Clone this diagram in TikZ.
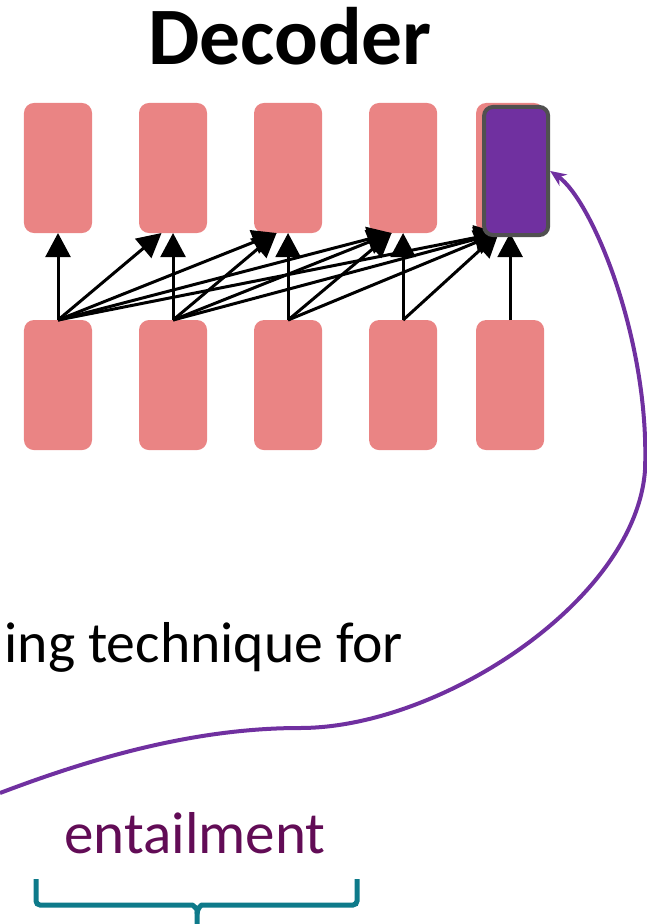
\documentclass[tikz,border=0pt]{standalone}
\usepackage{fontspec}
\setmainfont{Carlito}
\usetikzlibrary{positioning,arrows.meta}

\definecolor{cellpink}{RGB}{234,132,132}
\definecolor{selpurple}{RGB}{112,48,160}
\definecolor{selborder}{RGB}{80,80,80}
\definecolor{wordplum}{RGB}{98,12,86}
\definecolor{braceteal}{RGB}{14,122,138}

\begin{document}
\begin{tikzpicture}[x=0.025cm, y=-0.025cm, node distance = 2.175cm, auto]
    \tikzset{>=Triangle}
    % Draw the decoder cells
    \tikzstyle{cell}    = [rectangle, rounded corners=0.25cm, minimum width=1.7cm, minimum height=3.25cm, inner sep=0pt, outer sep=0pt, fill=cellpink]
    \tikzstyle{chosen}  = [rectangle, rounded corners=0.22cm, minimum width=1.6cm, minimum height=3.2cm, inner sep=0pt, line width=0.1cm, draw=selborder, fill=selpurple]
    \tikzstyle{feed}    = [line width=0.075cm, -{Triangle[length=0.6cm,width=0.62cm]}]
    \tikzstyle{pointer} = [line width=0.1cm, selpurple, -{Stealth[length=0.4cm,width=0.34cm]}]
    \tikzstyle{bracket} = [line width=0.125cm, braceteal, rounded corners=0.1cm]

    \useasboundingbox (0,0) rectangle (646,924);

    \node[anchor=base, font=\bfseries\fontsize{58}{60}\selectfont] (title) at (290,65) {Decoder};

    % upper row
    \node[cell] (t1) at (58,168) {};
    \node[cell, right=1.175cm of t1] (t2) {};
    \node[cell, right=1.175cm of t2] (t3) {};
    \node[cell, right=1.175cm of t3] (t4) {};
    \node[cell, right=0.975cm of t4] (t5) {};

    % lower row
    \foreach \i in {1,...,5}
        \node[cell, below=of t\i] (b\i) {};

    % each lower cell feeds its own and all later upper cells
    \foreach \i in {1,...,5}
        \foreach \j in {\i,...,5} {
            \pgfmathtruncatemacro{\ang}{\i==\j ? -90 : -100}
            \draw[feed] (b\i.north) -- (t\j.\ang);
        }

    % selected state over the last cell
    \node[chosen, xshift=0.15cm, yshift=-0.075cm] (sel) at (t5) {};

    \node[anchor=base east, font=\fontsize{41}{48}\selectfont] (line) at (408,662) {ing technique for};
    \node[anchor=base, text=wordplum, font=\fontsize{42}{48}\selectfont] (word) at (195,853) {entailment};

    % curve up to the selected state
    \coordinate (src) at (0,793);
    \draw[pointer] (src) .. controls (100,755) and (200,728) .. (300,728)
        .. controls (440,728) and (636,600) .. (645,470)
        .. controls (650,340) and (592,200) .. (sel.east);

    % brace under the word
    \draw[bracket] (36,879) |- (188,905) to[out=0,in=90] (197,914) -- (197,930);
    \draw[bracket] (357,879) |- (206,905) to[out=180,in=90] (197,914);
\end{tikzpicture}
\end{document}
